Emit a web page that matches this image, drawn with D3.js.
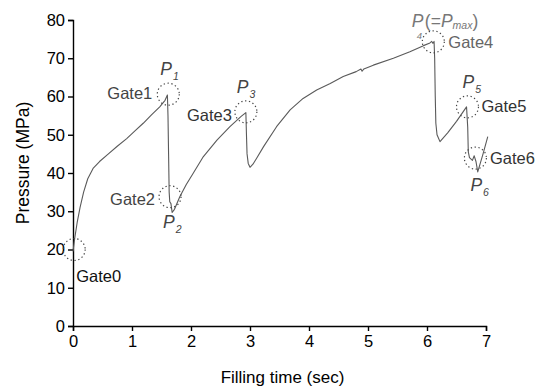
<!DOCTYPE html>
<html>
<head>
<meta charset="utf-8">
<script src="https://cdn.jsdelivr.net/npm/d3@7"></script>
<style>
  body { margin: 0; background: #fff; }
  text { font-family: "Liberation Sans", Arial, sans-serif; }
</style>
</head>
<body>
<div id="chart"></div>
<script>
// Filling time (sec) and cavity pressure (MPa)
const timeSec = [
  0.00, 0.03, 0.07, 0.12, 0.18, 0.25, 0.34, 0.45, 0.60, 0.75, 0.91, 1.05, 1.19, 1.33, 1.47, 1.56, 1.60,
  1.61, 1.62, 1.63, 1.64, 1.66, 1.68, 1.72, 1.81, 1.92, 2.04, 2.21, 2.44, 2.66, 2.85, 2.93,
  2.94, 2.95, 2.97, 3.00, 3.05, 3.11, 3.23, 3.45, 3.68, 3.90, 4.13, 4.36, 4.58, 4.80, 4.88, 4.90, 4.93,
  5.09, 5.43, 5.71, 5.94, 6.05, 6.08, 6.10, 6.12, 6.13, 6.14, 6.15, 6.17, 6.22, 6.35, 6.50, 6.67,
  6.69, 6.70, 6.72, 6.77, 6.80, 6.83, 6.86, 6.95, 7.03
];
const pressure = [
  19.5, 23, 27, 31, 35, 38.5, 41.2, 43, 45, 47, 49, 51, 53, 55.2, 57.3, 59, 60.4,
  55, 45, 35, 32.5, 32, 29.7, 30.5, 33.8, 37, 40, 44.3, 48.6, 52.1, 54.8, 55.8,
  50, 45, 42.5, 41.5, 42.3, 43.8, 46.9, 52.1, 56.5, 59.5, 61.7, 63.4, 65.2, 66.5, 67.2, 66.6, 67.2,
  68.2, 70, 71.7, 73.3, 74.0, 74.4, 73.9, 74.4, 70, 60, 53, 50, 48.2, 50.5, 53.5, 57.3,
  52, 45.5, 44.0, 43.3, 44.5, 43, 40.3, 45, 49.5
];

// Gate positions on the trace
const gateNames = ['Gate0', 'Gate1', 'Gate2', 'Gate3', 'Gate4', 'Gate5', 'Gate6'];
const gateTime = [0.02, 1.615, 1.645, 2.93, 6.107, 6.686, 6.82];
const gatePressure = [20, 60.6, 33.8, 56.0, 74.3, 57.3, 43.9];

// Peak pressure markers: which gate each belongs to and its subscript
const peakGate = [1, 2, 3, 4, 5, 6];
const peakSub = ['1', '2', '3', '4', '5', '6'];

const xTicks = [0, 1, 2, 3, 4, 5, 6, 7];
const yTicks = [0, 10, 20, 30, 40, 50, 60, 70, 80];

const W = 546, H = 389;
const margin = { top: 20, right: 60, bottom: 63, left: 73 };
const width = W - margin.left - margin.right;
const height = H - margin.top - margin.bottom;

const svg = d3.select('#chart').append('svg')
  .attr('width', W)
  .attr('height', H);

const g = svg.append('g')
  .attr('transform', `translate(${margin.left},${margin.top})`);

const x = d3.scaleLinear().domain([0, 7]).range([0, width]);
const y = d3.scaleLinear().domain([0, 80]).range([height, 0]);

// Axes
const xAxis = g.append('g')
  .attr('transform', `translate(0,${height})`)
  .call(d3.axisBottom(x).tickValues(xTicks).tickFormat(d3.format('d')).tickSizeOuter(0).tickSize(5).tickPadding(4));
const yAxis = g.append('g')
  .call(d3.axisLeft(y).tickValues(yTicks).tickFormat(d3.format('d')).tickSizeOuter(0).tickSize(5).tickPadding(3));

[xAxis, yAxis].forEach(a => {
  a.select('.domain').attr('stroke', '#000').attr('stroke-width', 1.4);
  a.selectAll('.tick line').attr('stroke', '#000').attr('stroke-width', 1.4);
  a.selectAll('.tick text')
    .style('font-family', '"Liberation Sans", Arial, sans-serif')
    .style('font-size', '16.5px')
    .attr('fill', '#000');
});

// Axis titles
svg.append('text')
  .attr('x', margin.left + width / 2 + 3)
  .attr('y', 383)
  .attr('text-anchor', 'middle')
  .style('font-size', '17px')
  .text('Filling time (sec)');

svg.append('text')
  .attr('transform', 'rotate(-90)')
  .attr('x', -163)
  .attr('y', 29)
  .attr('text-anchor', 'middle')
  .style('font-size', '17.5px')
  .text('Pressure (MPa)');

// Pressure trace
const data = timeSec.map((t, i) => ({ t: t, p: pressure[i] }));
const line = d3.line()
  .x(d => x(d.t))
  .y(d => y(d.p));

g.append('path')
  .datum(data)
  .attr('d', line)
  .attr('fill', 'none')
  .attr('stroke', '#5a5a5a')
  .attr('stroke-width', 1.1)
  .attr('stroke-linejoin', 'round');

// Gate circles
gateNames.forEach((name, i) => {
  g.append('circle')
    .attr('cx', x(gateTime[i]))
    .attr('cy', y(gatePressure[i]))
    .attr('r', 11)
    .attr('fill', 'none')
    .attr('stroke', '#444')
    .attr('stroke-width', 1.2)
    .attr('stroke-dasharray', '1.3,2.6');
});

// Gate labels: offset from circle centre, anchor, colour
const gateLabelPos = [
  { dx: 2, dy: 32, anchor: 'start', fill: '#111' },
  { dx: -16, dy: 5, anchor: 'end', fill: '#444' },
  { dx: -15, dy: 8, anchor: 'end', fill: '#444' },
  { dx: -14, dy: 9, anchor: 'end', fill: '#333' },
  { dx: 15, dy: 6.5, anchor: 'start', fill: '#666' },
  { dx: 14, dy: 5.5, anchor: 'start', fill: '#333' },
  { dx: 14.5, dy: 5.5, anchor: 'start', fill: '#333' }
];

gateNames.forEach((name, i) => {
  const p = gateLabelPos[i];
  g.append('text')
    .attr('x', x(gateTime[i]) + p.dx)
    .attr('y', y(gatePressure[i]) + p.dy)
    .attr('text-anchor', p.anchor)
    .attr('fill', p.fill)
    .style('font-size', '16.5px')
    .text(name);
});

// P labels with subscripts
const peakLabelPos = [
  { dx: -8, dy: -19, fill: '#444' },
  { dx: -7, dy: 31, fill: '#444' },
  { dx: -9, dy: -19, fill: '#444' },
  { dx: -21.5, dy: -15, fill: '#777' },
  { dx: -5, dy: -19, fill: '#444' },
  { dx: -5, dy: 33, fill: '#444' }
];

peakGate.forEach((gi, i) => {
  const p = peakLabelPos[i];
  const px = x(gateTime[gi]) + p.dx;
  const py = y(gatePressure[gi]) + p.dy;
  const t = g.append('text')
    .attr('x', px)
    .attr('y', py)
    .attr('fill', p.fill)
    .style('font-size', '17.5px');
  t.append('tspan').style('font-style', 'italic').text('P');
  if (peakSub[i] === '4') {
    // subscript tucked under the P, "(=Pmax)" as its own text after it
    g.append('text')
      .attr('x', px + 5)
      .attr('y', py + 12.5)
      .attr('fill', p.fill)
      .style('font-style', 'italic')
      .style('font-size', '9.5px')
      .text('4');
    const r = g.append('text')
      .attr('x', px + 13)
      .attr('y', py)
      .attr('fill', p.fill)
      .style('font-size', '17.5px');
    r.append('tspan').text('(=');
    r.append('tspan').style('font-style', 'italic').text('P');
    r.append('tspan').style('font-style', 'italic').style('font-size', '10.5px')
      .attr('dy', 2).text('max');
    r.append('tspan').attr('dy', -2).text(')');
  } else {
    t.append('tspan').style('font-style', 'italic').style('font-size', '10.5px')
      .attr('dx', 1).attr('dy', 5).text(peakSub[i]);
  }
});
</script>
</body>
</html>
